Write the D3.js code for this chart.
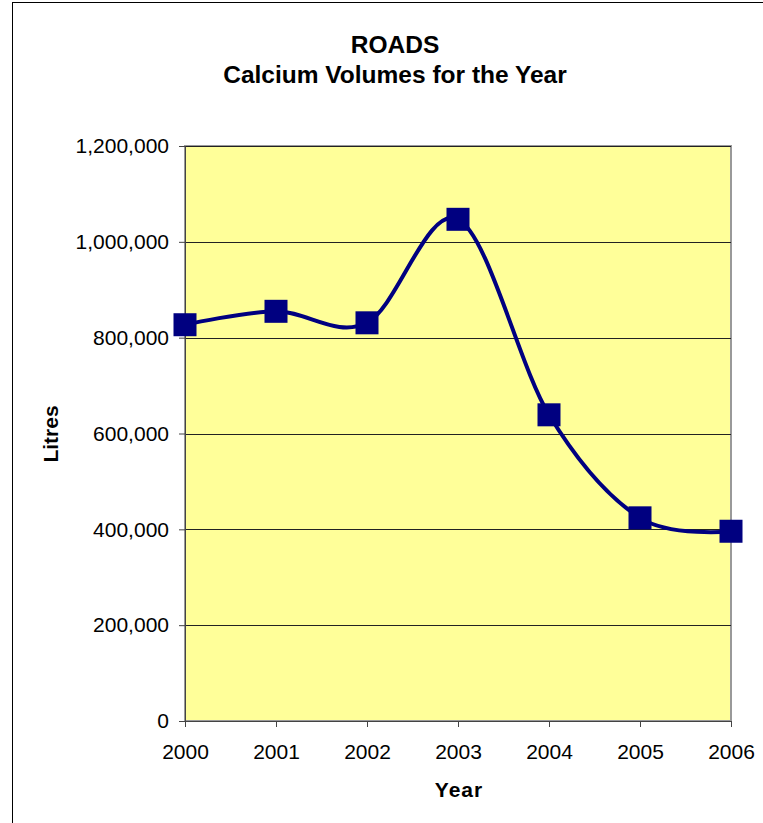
<!DOCTYPE html>
<html><head><meta charset="utf-8">
<script src="https://cdn.jsdelivr.net/npm/d3@7"></script>
<style>body{margin:0;background:#fff}svg{display:block;font-family:"Liberation Sans",Arial,sans-serif}</style>
</head><body>
<script>
const years = ["2000","2001","2002","2003","2004","2005","2006"];
const litres = [827000, 855000, 831000, 1047000, 639000, 424000, 396000];
const yTicks = [0, 200000, 400000, 600000, 800000, 1000000, 1200000];
const titleLines = ["ROADS", "Calcium Volumes for the Year"];

const W = 763, H = 823;
const m = {left:185, right:32, top:146, bottom:102};
const svg = d3.select("body").append("svg").attr("width", W).attr("height", H);

// chart frame
svg.append("rect").attr("x",12.5).attr("y",2.5).attr("width",W+10).attr("height",H+10)
  .attr("fill","#fff").attr("stroke","#000").attr("stroke-width",1);

const x = d3.scalePoint().domain(years).range([m.left, W - m.right]);
const y = d3.scaleLinear().domain([0, 1200000]).range([H - m.bottom, m.top]);

// plot area
svg.append("rect").attr("x",m.left).attr("y",m.top)
  .attr("width",(W-m.right)-m.left).attr("height",(H-m.bottom)-m.top)
  .attr("fill","#FFFF99").attr("stroke","#999").attr("stroke-width",2);

// gridlines
svg.append("g").selectAll("line").data(yTicks.filter(d=>d>0)).join("line")
  .attr("x1",m.left).attr("x2",W-m.right)
  .attr("y1",d=>Math.round(y(d))+0.5).attr("y2",d=>Math.round(y(d))+0.5)
  .attr("stroke","#222").attr("stroke-width",1);

// y axis
const yAxis = svg.append("g").attr("transform",`translate(${m.left},0)`)
  .call(d3.axisLeft(y).tickValues(yTicks).tickSize(6).tickPadding(10).tickFormat(d3.format(",")));
yAxis.attr("font-family",null).attr("font-size",null);
yAxis.select(".domain").attr("stroke","#444");
yAxis.selectAll(".tick line").attr("stroke","#444");
yAxis.selectAll("text").style("font-size","21px").attr("fill","#000");

// x axis
const xAxis = svg.append("g").attr("transform",`translate(0,${H-m.bottom})`)
  .call(d3.axisBottom(x).tickSize(6).tickPadding(17));
xAxis.attr("font-family",null).attr("font-size",null);
xAxis.select(".domain").attr("stroke","#444");
xAxis.selectAll(".tick line").attr("stroke","#444");
xAxis.selectAll("text").style("font-size","21px").attr("fill","#000");

// line
const line = d3.line().x((d,i)=>x(years[i])).y(d=>y(d)).curve(d3.curveCatmullRom.alpha(0));
svg.append("path").datum(litres).attr("d",line)
  .attr("fill","none").attr("stroke","#000080").attr("stroke-width",4);

// markers
const s = 23;
svg.append("g").selectAll("rect").data(litres).join("rect")
  .attr("x",(d,i)=>x(years[i])-s/2).attr("y",d=>y(d)-s/2)
  .attr("width",s).attr("height",s).attr("fill","#000080");

// titles
svg.append("g").selectAll("text").data(titleLines).join("text")
  .attr("x",395).attr("y",(d,i)=>53+i*30).attr("text-anchor","middle")
  .style("font-size","24.5px").attr("font-weight","bold").text(d=>d);

svg.append("text").attr("x",459).attr("y",797).attr("text-anchor","middle")
  .style("font-size","21px").attr("font-weight","bold").attr("letter-spacing","1px").text("Year");

svg.append("text").attr("transform","translate(58,434) rotate(-90)").attr("text-anchor","middle")
  .style("font-size","21px").attr("font-weight","bold").text("Litres");
</script>
</body></html>
